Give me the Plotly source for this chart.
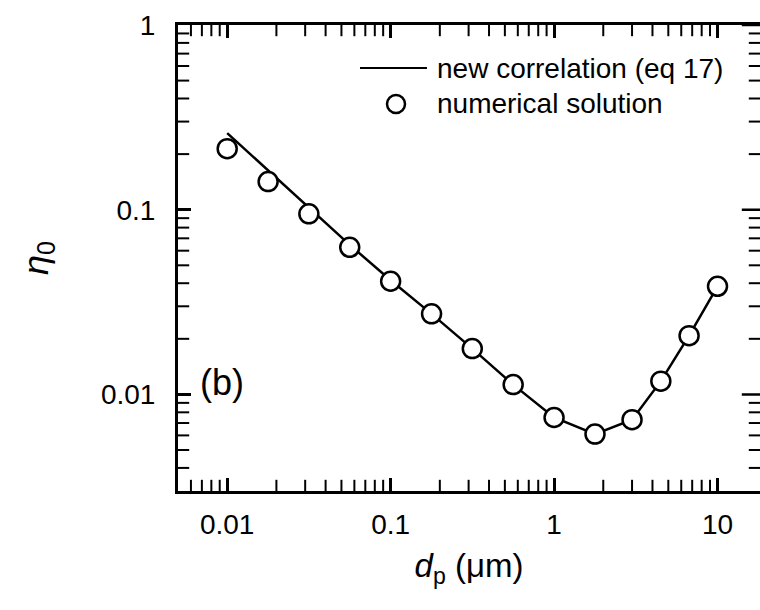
import numpy as np
import plotly.graph_objects as go

# Particle diameter (µm) and single-collector efficiency
dp_numerical = [0.01, 0.0178, 0.0316, 0.0562, 0.1, 0.178, 0.316, 0.562, 1.0, 1.78, 3.0, 4.5, 6.7, 10.0]
eta_numerical = [0.214, 0.142, 0.095, 0.0626, 0.041, 0.0273, 0.0177, 0.0113, 0.0075, 0.0061, 0.0073, 0.0118, 0.0208, 0.0385]

dp_correlation = [0.01, 0.0178, 0.0316, 0.0562, 0.1, 0.178, 0.316, 0.562, 1.0, 1.78, 3.0, 4.5, 6.7, 10.0]
eta_correlation = [0.26, 0.163, 0.102, 0.0645, 0.0415, 0.0273, 0.0177, 0.0113, 0.0075, 0.0061, 0.0073, 0.0118, 0.0208, 0.0385]

x_tickvals = [0.01, 0.1, 1, 10]
x_ticktext = ["0.01", "0.1", "1", "10"]
y_tickvals = [0.01, 0.1, 1]
y_ticktext = ["0.01", "0.1", "1"]

X_RANGE = [np.log10(0.005), 1.26]
Y_RANGE = [np.log10(0.003), 0.0]
X_LO, X_HI = 10 ** X_RANGE[0], 10 ** X_RANGE[1]
Y_LO, Y_HI = 10 ** Y_RANGE[0], 10 ** Y_RANGE[1]


def minor_log_ticks(lo, hi):
    """Positions 2..9 x 10^e lying inside [lo, hi]."""
    vals = [m * 10.0 ** e for e in range(-4, 3) for m in range(2, 10)]
    return [v for v in vals if lo * 1.0001 < v < hi / 1.0001]


x_minor = minor_log_ticks(X_LO, X_HI)
y_minor = minor_log_ticks(Y_LO, Y_HI)

FONT = "Liberation Sans, Arial, sans-serif"
MAJOR_LEN, MINOR_LEN = 13, 8

fig = go.Figure()


def add_edge_ticks(xs, ys, symbol, length, width):
    # Tick marks centred on a frame edge; clipping to the plot area keeps the inner half
    fig.add_trace(go.Scatter(
        x=xs, y=ys, mode="markers", cliponaxis=True, hoverinfo="skip", showlegend=False,
        marker=dict(symbol=symbol, size=2 * length, color="black",
                    line=dict(color="black", width=width)),
    ))


# minor ticks on all four sides, decade ticks on the right side
add_edge_ticks(x_minor, [Y_LO] * len(x_minor), "line-ns", MINOR_LEN, 2)
add_edge_ticks(x_minor, [Y_HI] * len(x_minor), "line-ns", MINOR_LEN, 2)
add_edge_ticks([X_LO] * len(y_minor), y_minor, "line-ew", MINOR_LEN, 2)
add_edge_ticks([X_HI] * len(y_minor), y_minor, "line-ew", MINOR_LEN, 2)
add_edge_ticks([X_HI] * len(y_tickvals), y_tickvals, "line-ew", MAJOR_LEN, 2.5)

fig.add_trace(go.Scatter(
    x=dp_correlation, y=eta_correlation, mode="lines",
    line=dict(color="black", width=2.5),
    name="new correlation (eq 17)", showlegend=False,
))
fig.add_trace(go.Scatter(
    x=dp_numerical, y=eta_numerical, mode="markers",
    marker=dict(symbol="circle", size=19, color="white",
                line=dict(color="black", width=2.5)),
    name="numerical solution", showlegend=False,
))

tick_font = dict(family=FONT, size=28, color="black")

fig.update_xaxes(
    type="log", range=X_RANGE, tickmode="array",
    tickvals=x_tickvals, ticktext=x_ticktext,
    ticks="inside", ticklen=MAJOR_LEN, tickwidth=2.5, tickcolor="black",
    showline=True, linecolor="black", linewidth=3, mirror="ticks",
    showgrid=False, zeroline=False,
    tickfont=tick_font, ticklabelstandoff=6,
    title=dict(text="<i>d</i><sub>p</sub> (μm)", standoff=16,
               font=dict(family=FONT, size=33, color="black")),
)
fig.update_yaxes(
    type="log", range=Y_RANGE, tickmode="array",
    tickvals=y_tickvals, ticktext=y_ticktext,
    ticks="inside", ticklen=MAJOR_LEN, tickwidth=2.5, tickcolor="black",
    showline=True, linecolor="black", linewidth=3, mirror=False,
    showgrid=False, zeroline=False,
    tickfont=tick_font, ticklabelstandoff=14,
    title=dict(text="<i>η</i><sub>0</sub>", standoff=42,
               font=dict(family=FONT, size=36, color="black")),
)

# Legend drawn in plot-area coordinates
leg_font = dict(family=FONT, size=28, color="black")
fig.add_shape(type="line", xref="paper", yref="paper",
              x0=0.3127, x1=0.4278, y0=0.9077, y1=0.9077,
              line=dict(color="black", width=2))
fig.add_annotation(xref="paper", yref="paper", x=0.4416, y=0.9077,
                   xanchor="left", yanchor="middle", showarrow=False,
                   text="new correlation (eq 17)", font=leg_font)
fig.add_shape(type="circle", xref="paper", yref="paper",
              xsizemode="pixel", ysizemode="pixel",
              xanchor=0.3746, yanchor=0.8305, x0=-9, x1=9, y0=-9, y1=9,
              line=dict(color="black", width=2.5), fillcolor="white")
fig.add_annotation(xref="paper", yref="paper", x=0.4416, y=0.8305,
                   xanchor="left", yanchor="middle", showarrow=False,
                   text="numerical solution", font=leg_font)

# Panel label
fig.add_annotation(xref="paper", yref="paper", x=0.0756, y=0.2318,
                   xanchor="center", yanchor="middle", showarrow=False,
                   text="(b)", font=dict(family=FONT, size=36, color="black"))

fig.update_layout(
    width=760, height=610,
    margin=dict(l=178, r=0, t=25, b=119),
    paper_bgcolor="white", plot_bgcolor="white",
    showlegend=False,
)

fig.write_html("out.html")
